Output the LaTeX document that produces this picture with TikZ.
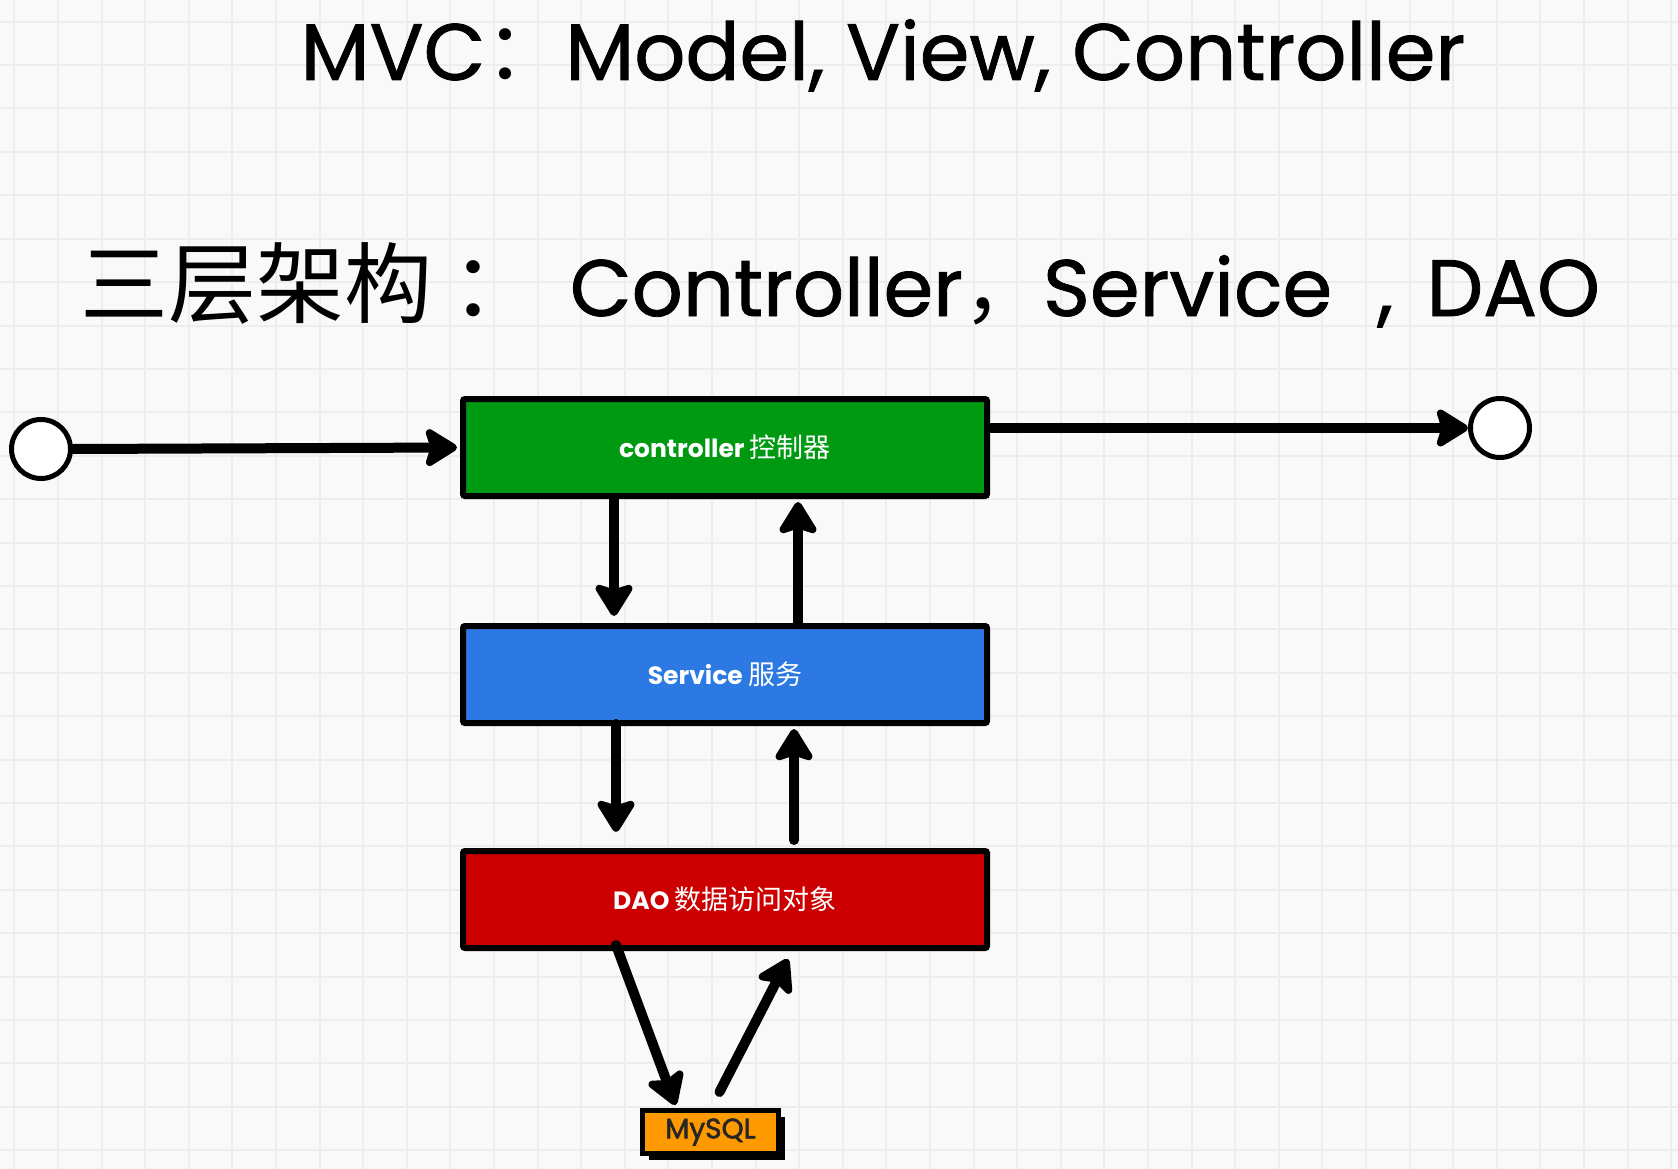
\documentclass[tikz,border=0pt]{standalone}
\usepackage{fontspec}
\setmainfont{Poppins}
\newfontfamily\cjk{Noto Sans CJK SC}
\usetikzlibrary{arrows.meta,shadows,calc}

\definecolor{bggray}{HTML}{F9F9F9}
\definecolor{gridgray}{HTML}{EDEDED}
\definecolor{boxgreen}{HTML}{009A12}
\definecolor{boxblue}{HTML}{2D79E3}
\definecolor{boxred}{HTML}{CC0000}
\definecolor{boxorange}{HTML}{FF9900}

\begin{document}
\begin{tikzpicture}[x=1pt,y=-1pt,
  layer/.style={draw=black, line width=6pt, rounded corners=2pt, minimum width=524pt, minimum height=97pt, inner sep=0pt, text=white, font=\fontsize{25}{25}\selectfont\bfseries},
  endpt/.style={circle, draw=black, line width=5pt, fill=white, minimum size=59pt, inner sep=0pt},
  flow/.style={line width=10pt, -{Stealth[length=37pt,width=45pt,inset=7pt,round]}, line cap=round},
  gridline/.style={gridgray, line width=2pt},
]
\useasboundingbox (0,0) rectangle (1678,1169);
\fill[bggray] (0,0) rectangle (1678,1169);
\foreach \i in {0,...,38} \draw[gridline] ({14.4+43.6*\i},0) -- ({14.4+43.6*\i},1169);
\foreach \j in {0,...,26} \draw[gridline] (0,{21.7+43.4*\j}) -- (1678,{21.7+43.4*\j});

% titles
\node[anchor=base, inner sep=0pt, font=\fontsize{80}{80}\selectfont\addfontfeature{FakeBold=1}] (title) at (883,80)
  {MVC{\cjk ：}Model, View, Controller};
\node[anchor=base west, inner sep=0pt, font=\fontsize{80}{80}\selectfont\addfontfeature{FakeBold=1}] (sub) at (80,316)
  {{\cjk\fontsize{88}{88}\selectfont 三层架构 ：}\hspace{30pt}Controller{\cjk ，}Service\hspace{24pt} ,\hspace{12pt} DAO};

% layers
\node[layer, fill=boxgreen] (ctrl) at (725,447.5) {controller {\cjk\mdseries\fontsize{27}{27}\selectfont 控制器}};
\node[layer, fill=boxblue]  (svc)  at (725,674.5) {Service {\cjk\mdseries\fontsize{27}{27}\selectfont 服务}};
\node[layer, fill=boxred]   (dao)  at (725,899.5) {DAO {\cjk\mdseries\fontsize{27}{27}\selectfont 数据访问对象}};
\node[draw=black, line width=5pt, fill=boxorange, minimum width=136pt, minimum height=43pt, inner sep=0pt,
      font=\fontsize{28}{28}\selectfont\addfontfeature{FakeBold=2}, text=black!85,
      drop shadow={shadow xshift=6pt, shadow yshift=-6pt, opacity=1, fill=black}] (mysql) at (710.5,1132) {MySQL};

% end points
\node[endpt] (in)  at (41,449) {};
\node[endpt] (out) at (1500,428) {};

% connectors
\draw[flow] (in.east) -- ([xshift=-3pt]ctrl.west);
\draw[flow] (ctrl.east |- out) -- (out.west);
\draw[flow] ([xshift=-111pt]ctrl.south) -- ([xshift=-111pt,yshift=7pt]svc.north);
\draw[flow] ([xshift=73pt]svc.north) -- ([xshift=73pt,yshift=-3pt]ctrl.south);
\draw[flow] ([xshift=-109pt,yshift=2pt]svc.south) -- ([xshift=-109pt,yshift=16pt]dao.north);
\draw[flow] ([xshift=69pt,yshift=8pt]dao.north) -- ([xshift=69pt,yshift=-3pt]svc.south);
\draw[flow] ([xshift=-109pt,yshift=6pt]dao.south) -- ([xshift=-35pt,yshift=3pt]mysql.north);
\draw[flow] ([xshift=9pt,yshift=16pt]mysql.north) -- ([xshift=63pt,yshift=-8pt]dao.south);
\end{tikzpicture}
\end{document}
